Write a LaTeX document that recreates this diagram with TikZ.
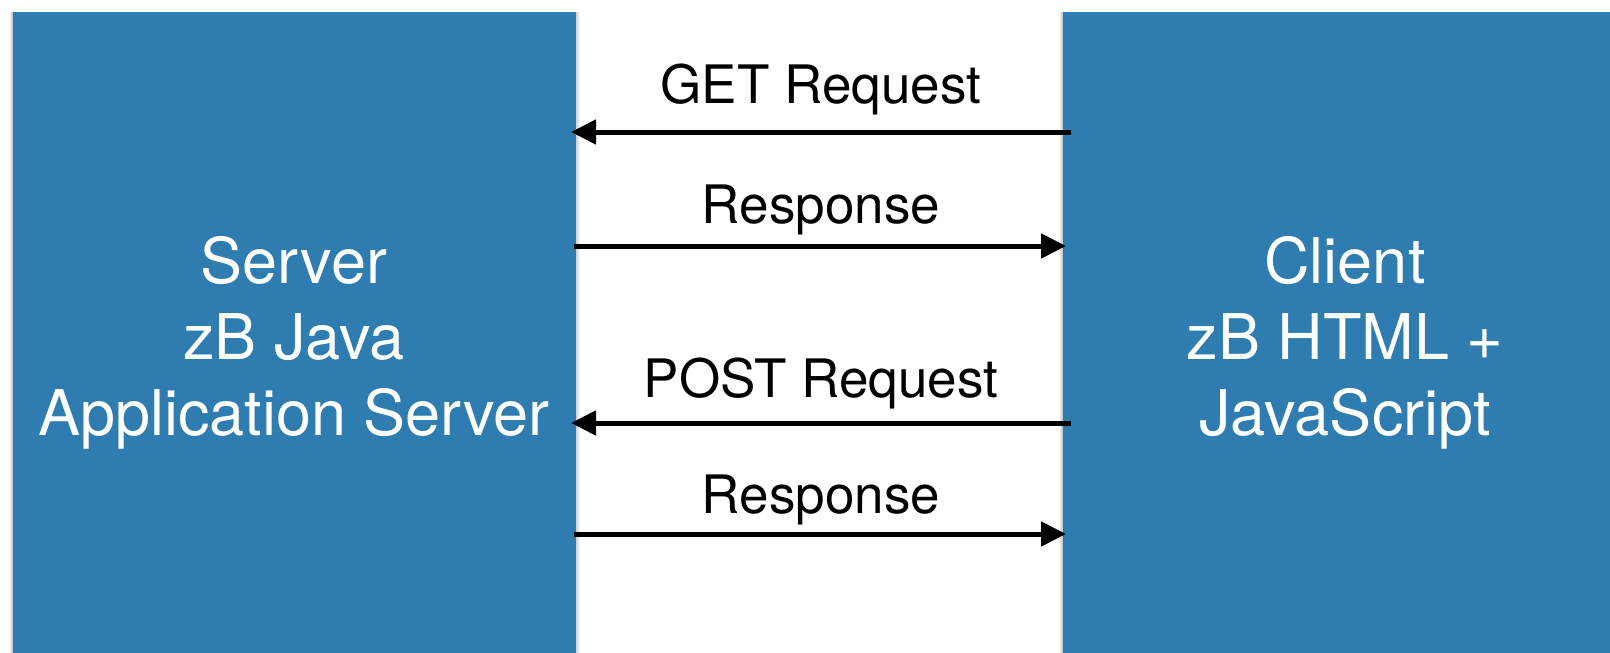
\documentclass[tikz,border=0pt]{standalone}
\usepackage{fontspec}
\setmainfont{TeX Gyre Heros}
\usetikzlibrary{arrows.meta}
\definecolor{boxblue}{RGB}{46,124,176}
\begin{document}
\begin{tikzpicture}[x=1pt,y=-1pt,
  panel/.style={fill=boxblue, draw=none, inner sep=0pt, outer sep=0pt, anchor=north west},
  big/.style={text=white, font=\fontsize{63}{76}\selectfont, align=center, inner sep=0pt, anchor=base},
  small/.style={text=black, font=\fontsize{53}{64}\selectfont, inner sep=0pt, anchor=base},
  msg/.style={line width=5pt, -{Triangle[length=25pt,width=24pt]}},
  shadeL/.style={left color=white, right color=black!30, draw=none},
  shadeR/.style={left color=black!18, right color=white, draw=none},
]
\useasboundingbox (0,0) rectangle (1610,653);
\fill[white] (0,0) rectangle (1610,653);
% soft shadows at panel edges
\shade[shadeL] (9,12) rectangle (13,653);
\shade[shadeR] (576,12) rectangle (580,653);
\shade[shadeL] (1059,12) rectangle (1063,653);
% panels
\node[panel, minimum width=563pt, minimum height=641pt] (server) at (13,12) {};
\node[panel, minimum width=547pt, minimum height=641pt] (client) at (1063,12) {};
% panel labels (base = baseline of last line)
\node[big] (serverlabel) at (294,435) {Server\\zB Java\\Application Server};
\node[big] (clientlabel) at (1345,435) {Client\\zB HTML +\\JavaScript};
% message labels
\node[small] (getlabel) at (821,103) {GET Request};
\node[small] (resp1label) at (821,223) {Response};
\node[small] (postlabel) at (821,397) {POST Request};
\node[small] (resp2label) at (821,513) {Response};
% connector ends
\coordinate (getS) at (1071,132);
\coordinate (getE) at (571,132);
\coordinate (r1S) at (574,246);
\coordinate (r1E) at (1066,246);
\coordinate (postS) at (1071,423);
\coordinate (postE) at (571,423);
\coordinate (r2S) at (574,534);
\coordinate (r2E) at (1066,534);
\draw[msg] (getS) -- (getE);
\draw[msg] (r1S) -- (r1E);
\draw[msg] (postS) -- (postE);
\draw[msg] (r2S) -- (r2E);
\end{tikzpicture}
\end{document}
